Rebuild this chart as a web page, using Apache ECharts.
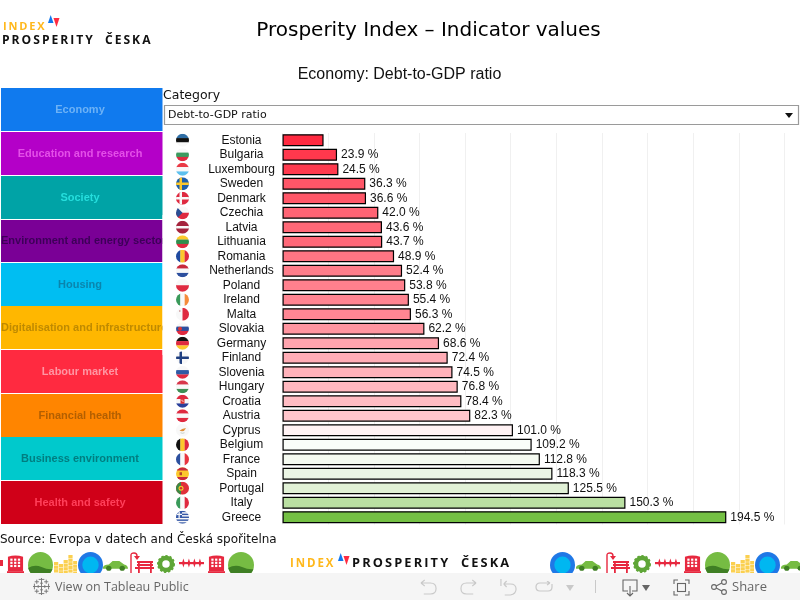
<!DOCTYPE html>
<html><head><meta charset="utf-8">
<style>html,body{margin:0;padding:0;background:#fff}#c{width:800px;height:600px}</style>
<script src="https://cdn.jsdelivr.net/npm/echarts@6/dist/echarts.min.js"></script>
</head><body><div id="c"></div>
<script>
const countries = ['Estonia','Bulgaria','Luxembourg','Sweden','Denmark','Czechia','Latvia','Lithuania','Romania','Netherlands','Poland','Ireland','Malta','Slovakia','Germany','Finland','Slovenia','Hungary','Croatia','Austria','Cyprus','Belgium','France','Spain','Portugal','Italy','Greece'];
const debtValues = [18.0,23.9,24.5,36.3,36.6,42.0,43.6,43.7,48.9,52.4,53.8,55.4,56.3,62.2,68.6,72.4,74.5,76.8,78.4,82.3,101.0,109.2,112.8,118.3,125.5,150.3,194.5];
const unlabelled = ['Estonia'];
const categoryNames = ['Economy','Education and research','Society','Environment and energy sector','Housing','Digitalisation and infrastructure','Labour market','Financial health','Business environment','Health and safety'];

const SANS='"Liberation Sans",Arial,sans-serif', DJ='"DejaVu Sans",Verdana,sans-serif';
const catFill=['#107aee','#b400c8','#00a3a6','#7a0096','#00bef2','#ffb700','#ff2a40','#ff8500','#00c9cc','#d00018'];
const catText=['#6db2f6','#e44fe8','#25dedd','#3d0058','#0a85ad','#bf8a00','#ff96a3','#b35f00','#007e80','#ff3f5a'];
const catTop=[88,132,176,220,263,306,350,394,437,481];
const catBottom=[131,175,219,262,306,349,393,437,480,524];

function svg(w,h,body){return 'data:image/svg+xml;charset=utf-8,'+encodeURIComponent(`<svg xmlns="http://www.w3.org/2000/svg" width="${w}" height="${h}" viewBox="0 0 ${w} ${h}">${body}</svg>`);}
const hS=c=>c.map((k,i)=>`<rect x="0" y="${26*i/c.length}" width="26" height="${26/c.length+.3}" fill="${k}"/>`).join('');
const vS=c=>c.map((k,i)=>`<rect y="0" x="${26*i/c.length}" height="26" width="${26/c.length+.3}" fill="${k}"/>`).join('');
const cross=(bg,fg)=>`<rect width="26" height="26" fill="${bg}"/><rect x="7" width="5" height="26" fill="${fg}"/><rect y="10.5" width="26" height="5" fill="${fg}"/>`;
const W='#f8f8f8',R='#df2a40',B='#2c4f9e',G='#3a9a5a',Y='#fcc82c',K='#111';
const flagArt={
Estonia:hS(['#2f6ea5',K,W]),Bulgaria:hS([W,'#3c9a5f',R]),Luxembourg:hS(['#ea3a46',W,'#5cc0ee']),Sweden:cross('#1f5fa8',Y),Denmark:cross(R,W),
Czechia:hS([W,R])+'<path d="M0 0L13 13L0 26Z" fill="#2a4f95"/>',Latvia:`<rect width="26" height="26" fill="#a5243d"/><rect y="10.5" width="26" height="5" fill="${W}"/>`,
Lithuania:hS([Y,'#2f8f4e',R]),Romania:vS(['#1f4aa0',Y,R]),Netherlands:hS(['#c8283c',W,B]),Poland:hS([W,R]),Ireland:vS([G,W,'#f58b3a']),
Malta:vS([W,R])+'<rect x="6" y="5" width="3" height="3" fill="#c99"/>',Slovakia:hS([W,B,R])+'<circle cx="8" cy="13" r="4" fill="#d33"/>',Germany:hS([K,R,Y]),Finland:cross(W,'#1f3f80'),
Slovenia:hS([W,'#2f5aa5',R]),Hungary:hS(['#d8364a',W,'#3f8f55']),Croatia:hS([R,W,'#2a3f9b'])+'<rect x="9" y="8" width="8" height="10" fill="#d33"/><rect x="11" y="10" width="2" height="2" fill="#fff"/><rect x="13" y="12" width="2" height="2" fill="#fff"/>',
Austria:hS([R,W,R]),Cyprus:`<rect width="26" height="26" fill="${W}"/><path d="M7 14Q13 8 20 9Q17 15 12 15Z" fill="#e0913a"/><path d="M9 18Q13 20 17 18" stroke="#9a9" fill="none"/>`,
Belgium:vS([K,Y,R]),France:vS([B,W,'#e8333f']),Spain:`<rect width="26" height="26" fill="${Y}"/><rect width="26" height="6.5" fill="#c8283c"/><rect y="19.5" width="26" height="6.5" fill="#c8283c"/><rect x="7" y="10" width="5" height="6" fill="#b5432a"/>`,
Portugal:`<rect width="26" height="26" fill="#e0303a"/><rect width="10" height="26" fill="#3a8a45"/><circle cx="10" cy="13" r="5" fill="#f2c92c"/><circle cx="10" cy="13" r="2.5" fill="#c33"/>`,
Italy:vS([G,W,R]),Greece:`<rect width="26" height="26" fill="${W}"/>`+[0,2,4,6,8].map(i=>`<rect y="${i*2.89}" width="26" height="2.89" fill="#3558a8"/>`).join('')+`<rect width="12" height="14.4" fill="#3558a8"/><rect x="5" width="2.6" height="14.4" fill="${W}"/><rect y="6" width="12" height="2.6" fill="${W}"/>`};
const flagUri={};
countries.forEach(c=>flagUri[c]=svg(26,26,`<defs><clipPath id="a"><circle cx="13" cy="13" r="13"/></clipPath></defs><g clip-path="url(#a)">${flagArt[c]}</g>`));

const icons={
building:svg(18,20,`<path d="M1 2Q9 -1 17 2V18H1Z" fill="#e7283f"/><rect x="0" y="18" width="18" height="2" fill="#e7283f"/>`+[3.5,7.5,11.5].map(x=>[4,7.5,11].map(y=>`<rect x="${x}" y="${y}" width="2.4" height="2.4" fill="#fff"/>`).join('')).join('')),
hill:svg(26,26,`<defs><clipPath id="a"><ellipse cx="13" cy="13" rx="13" ry="13"/></clipPath></defs><g clip-path="url(#a)"><rect width="26" height="26" fill="#76bc43"/><path d="M0 16Q7 12 14 15T26 17V26H0Z" fill="#3f7f24"/></g>`),
bars:svg(24,18,[[0,7,11],[5,9,9],[10,5,13],[15,0,18],[20,6,12]].map(([x,y,h])=>{let s='';for(let v=y;v<y+h;v+=3.6)s+=`<rect x="${x}" y="${v}" width="4.4" height="3.2" fill="#fbd050"/>`;return s;}).join('')),
disc:svg(26,26,`<circle cx="13" cy="13" r="13" fill="#1f78e6"/><circle cx="13" cy="13" r="8.5" fill="#00b7f1"/>`),
car:svg(26,12,`<path d="M0 8Q1 5 6 5L10 1H17L22 5Q26 6 26 9.5H0Z" fill="#76bc43"/><circle cx="6" cy="9" r="2.8" fill="#3f7f24"/><circle cx="20" cy="9" r="2.8" fill="#3f7f24"/>`),
bench:svg(25,21,`<g fill="none" stroke="#e7283f"><path d="M2 21V3Q2 1 5 1T8 4" stroke-width="1.4"/></g><path d="M5 4H11L8 8Z" fill="#e7283f"/><rect x="8" y="9" width="16" height="2" fill="#e7283f"/><rect x="8" y="12" width="16" height="2" fill="#e7283f"/><rect x="6" y="15" width="19" height="2" fill="#e7283f"/><rect x="9" y="9" width="1.8" height="12" fill="#e7283f"/><rect x="21" y="9" width="1.8" height="12" fill="#e7283f"/>`),
gear:svg(18,18,`<circle cx="9" cy="9" r="6" fill="none" stroke="#5fa637" stroke-width="4.5"/><circle cx="9" cy="9" r="8" fill="none" stroke="#5fa637" stroke-width="2" stroke-dasharray="2.2 1.9"/>`),
fence:svg(25,10,`<rect y="4" width="25" height="2.2" fill="#e7283f"/>`+[3,8.5,14,19.5].map(x=>`<path d="M${x+1.4} 0.5L${x+2.8} 5L${x+1.4} 9.5L${x} 5Z" fill="#e7283f"/>`).join('')),
tableau:svg(18,18,`<g stroke="#777" stroke-width="1" fill="none">`+[[9,1.5,3],[9,16.5,3],[1.5,9,3],[16.5,9,3],[4,4,2.2],[14,4,2.2],[4,14,2.2],[14,14,2.2],[9,9,3.4],[9,5.5,1.5],[9,12.5,1.5],[5.5,9,1.5],[12.5,9,1.5]].map(([x,y,r])=>`<path d="M${x-r} ${y}H${x+r}M${x} ${y-r}V${y+r}"/>`).join('')+`</g>`),
undo:svg(18,16,`<path d="M1 4H11Q17 4 17 9.5T11 15H4M1 4L5 1M1 4L5 7" fill="none" stroke="#c9c9c9" stroke-width="1.2"/>`),
redo:svg(18,16,`<path d="M17 4H7Q1 4 1 9.5T7 15H14M17 4L13 1M17 4L13 7" fill="none" stroke="#c9c9c9" stroke-width="1.2"/>`),
revert:svg(18,17,`<path d="M1 0V7M4 5H11Q17 5 17 10T11 16H5M4 5L7 2M4 5L7 8" fill="none" stroke="#c9c9c9" stroke-width="1.2"/>`),
refresh:svg(18,11,`<path d="M15 2H5Q1 2 1 6T5 10H13Q17 10 17 6V3M15 2L12 0M15 2L12 4" fill="none" stroke="#c9c9c9" stroke-width="1.2"/>`),
caretL:svg(8,6,`<path d="M0 0H8L4 6Z" fill="#c9c9c9"/>`),
caretD:svg(8,6,`<path d="M0 0H8L4 6Z" fill="#666"/>`),
download:svg(16,18,`<path d="M6 12H1V1H15V12H10M8 7V17M5 14L8 17L11 14" fill="none" stroke="#666" stroke-width="1.1"/>`),
full:svg(17,17,`<path d="M1 5V1H5M12 1H16V5M16 12V16H12M5 16H1V12" fill="none" stroke="#666" stroke-width="1.1"/><rect x="4.5" y="4.5" width="8" height="8" fill="none" stroke="#666" stroke-width="1.1"/>`),
share:svg(16,16,`<g fill="none" stroke="#666" stroke-width="1.1"><circle cx="3" cy="8" r="2.4"/><circle cx="13" cy="3" r="2.4"/><circle cx="13" cy="13" r="2.4"/><path d="M5.2 7L10.8 4M5.2 9L10.8 12"/></g>`),
arrow:svg(10,7,`<path d="M1 1H9L5 6Z" fill="#111"/>`)
};
const g=[];
const rect=(x,y,w,h,fill,extra)=>g.push({type:'rect',shape:{x,y,width:w,height:h},style:Object.assign({fill},extra||{}),silent:true});
const text=(x,y,t,font,fill,align,vert)=>g.push({type:'text',x,y,silent:true,style:{text:t,font,fill,textAlign:align||'left',textVerticalAlign:vert||'middle'}});
const img=(name,x,y,w,h)=>g.push({type:'image',silent:true,style:{image:icons[name],x,y,width:w,height:h}});
const spaced=(s,sp)=>s.split('').join(sp);
const logo=(xIndex,yIndex,size,xTri,yTri,xWord,yWord,wordSize)=>{
  text(xIndex,yIndex,spaced('INDEX','\u2009'),'bold '+size+'px "Open Sans",sans-serif','#ffb81c');
  g.push({type:'polygon',silent:true,shape:{points:[[xTri,yTri+8],[xTri+5.5,yTri+8],[xTri+2.7,yTri]]},style:{fill:'#1077ee'}});
  g.push({type:'polygon',silent:true,shape:{points:[[xTri+5.5,yTri+3],[xTri+11.5,yTri+3],[xTri+8.5,yTri+12]]},style:{fill:'#ff2a40'}});
  text(xWord,yWord,spaced('PROSPERITY','\u2009')+'\u2002\u2002'+spaced('\u010cESKA','\u2009'),'bold '+wordSize+'px "Open Sans",sans-serif','#111');
};
// category tiles
categoryNames.forEach((n,i)=>{
  rect(1,catTop[i],161.5,catBottom[i]-catTop[i],catFill[i]);
  const long=n.length>24;
  text(long?1:80,(catTop[i]+catBottom[i])/2,n,'bold 11px '+SANS,catText[i],long?'left':'center');
});
rect(162.5,215,14,140,'#fff');
// header
logo(3,27,11,48,15,2,40.5,12.1);
text(428.5,31,'Prosperity Index \u2013 Indicator values','20px '+DJ,'#000','center');
text(399.5,75,'Economy: Debt-to-GDP ratio','16px '+SANS,'#111','center');
text(163,96,'Category','12.5px '+DJ,'#111');
rect(164.5,105.5,634,19,'#fff',{stroke:'#9a9a9a',lineWidth:1.2});
text(168,115.5,'Debt-to-GDP ratio','11px '+DJ,'#111');
img('arrow',784,112,10,7);
text(0,539.5,'Source: Evropa v datech and \u010cesk\u00e1 spo\u0159itelna','12px '+DJ,'#111');
// decorative strip
[['building',7,555,17,18],['hill',28,552,25,26],['bars',54,555,23,18],['disc',78,552,25,26],['car',103,560,25,11],['bench',129,552,25,21],['gear',157,555,18,18],['fence',179,558,25,10],['building',208,555,17,18],['hill',228,552,26,26],
 ['disc',550,552,25,26],['car',576,560,25,11],['bench',605,552,25,21],['gear',633,555,18,18],['fence',655,558,25,10],['building',684,555,17,18],['hill',705,552,25,26],['bars',731,555,23,18],['disc',755,552,25,26],['car',781,560,25,11]].forEach(a=>img(...a));
rect(0,560,3,6,'#e7283f');
logo(290,563.5,11.5,338,553,352,563.5,12.8);
// toolbar
rect(0,573,800,27,'#f5f5f5');
img('tableau',33,578,17,17);
text(55,587,'View on Tableau Public','12.5px "Open Sans",sans-serif','#666');
img('undo',420,579,17,16);img('redo',460,579,17,16);img('revert',500,579,17,17);img('refresh',535,581,18,11);img('caretL',566,585,8,6);
rect(595,580,1,13,'#c9c9c9');
img('download',622,579,16,18);img('caretD',642,585,8,6);img('full',673,579,17,17);img('share',711,579,16,16);
text(732,587,'Share','13px "Open Sans",sans-serif','#666');

const chart=echarts.init(document.getElementById('c'),null,{renderer:'canvas'});
chart.setOption({
  animation:false,
  graphic:{elements:g},
  grid:{left:282.5,top:133,width:502,height:391.5,containLabel:false},
  xAxis:{type:'value',min:0,max:220,interval:20,axisLine:{show:false},axisTick:{show:false},axisLabel:{show:false},splitLine:{show:true,lineStyle:{color:'#f0f0f0',width:1}}},
  yAxis:{type:'category',inverse:true,data:countries,axisLine:{show:false},axisTick:{show:false},splitLine:{show:false},
    axisLabel:{interval:0,align:'center',margin:41,fontFamily:SANS,fontSize:12,color:'#111'}},
  visualMap:{show:false,type:'continuous',seriesIndex:0,dimension:0,min:18,max:194.5,inRange:{color:['#ff2a40','#ffffff','#74c044']}},
  series:[
   {type:'bar',data:countries.map((c,i)=>[debtValues[i],c]),encode:{x:0,y:1},barWidth:12,
    itemStyle:{borderColor:'#000',borderWidth:1.2},
    label:{show:true,position:'right',distance:4,fontFamily:SANS,fontSize:12,color:'#111',
      formatter:p=>unlabelled.includes(p.value[1])?'':p.value[0].toFixed(1)+' %'}},
   {type:'custom',clip:false,silent:true,data:countries.map(c=>[0,c]),encode:{x:0,y:1},z:3,
    renderItem:(params,api)=>{
      const p=api.coord([0,api.value(1)]);
      return {type:'image',style:{image:flagUri[countries[params.dataIndex]],x:p[0]-106.5,y:p[1]-6.5,width:13,height:13}};
    }}
  ]
});
</script></body></html>
